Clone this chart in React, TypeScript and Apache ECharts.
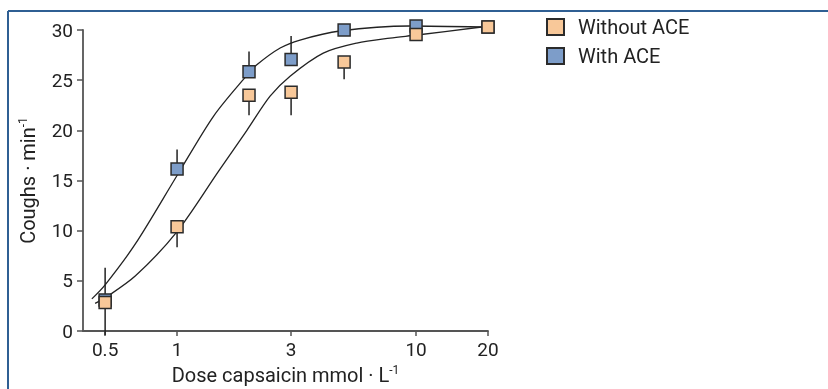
import React, { useEffect, useRef } from "react";
import * as echarts from "echarts";

const doses = [0.5, 1, 2, 3, 5, 10, 20];
const withoutAce = [2.85, 10.4, 23.5, 23.8, 26.8, 29.55, 30.3];
const withAce = [3.1, 16.15, 25.85, 27.05, 30.0, 30.4, 30.3];
const withAceErrHigh = [6.3, 18.1, 27.85, 29.4, null, null, null];
const withoutAceErrLow = [-0.4, 8.35, 21.5, 21.5, 25.1, null, null];

const withAceCurveDose = [0.44, 0.5, 0.67, 1.0, 1.42, 1.93, 2.15, 2.7, 3.27, 4.8, 9.4, 18.8];
const withAceCurve = [3.2, 4.6, 8.7, 15.5, 21.4, 25.3, 26.5, 28.2, 29.0, 29.9, 30.4, 30.3];
const withoutAceCurveDose = [0.454, 0.5, 0.67, 1.0, 1.49, 1.96, 2.45, 2.97, 4.09, 5.65, 7.78, 10.1, 18.8];
const withoutAceCurve = [2.76, 3.3, 5.5, 9.9, 15.9, 20.0, 23.4, 25.4, 27.7, 28.7, 29.2, 29.5, 30.3];

const xTickLabels = [0.5, 1, 3, 10, 20];
const xMinDose = 0.404;
const xMaxDose = 20;

const FONT = "Roboto";
const ORANGE = "#f8c899";
const BLUE = "#7d9dc9";
const INK = "#222222";

const lg = (v: number) => Math.log10(v);

export default function App() {
  const ref = useRef<HTMLDivElement>(null);

  useEffect(() => {
    if (!ref.current) return;
    const chart = echarts.init(ref.current, undefined, { renderer: "svg" });

    const errData = (vals: number[], errs: (number | null)[]) =>
      doses
        .map((d, i) => (errs[i] == null ? null : [lg(d), vals[i], errs[i] as number]))
        .filter((v) => v !== null);

    const errSeries = (name: string, data: any[]) => ({
      type: "custom",
      name,
      clip: false,
      z: 3,
      silent: true,
      data,
      renderItem: (_p: any, api: any) => {
        const x = api.value(0);
        const p1 = api.coord([x, api.value(1)]);
        const p2 = api.coord([x, api.value(2)]);
        return {
          type: "line",
          shape: { x1: p1[0], y1: p1[1], x2: p2[0], y2: p2[1] },
          style: { stroke: INK, lineWidth: 1.5 },
        };
      },
    });

    const curve = (xs: number[], ys: number[]) => ({
      type: "line",
      data: xs.map((d, i) => [lg(d), ys[i]]),
      smooth: 0.3,
      symbol: "none",
      silent: true,
      clip: false,
      z: 2,
      lineStyle: { color: INK, width: 1.3 },
    });

    const richName = {
      t: { fontSize: 20, color: INK, fontFamily: FONT },
      s: { fontSize: 12, color: INK, fontFamily: FONT, padding: [0, 0, 10, 0] },
    };

    const option: any = {
      animation: false,
      textStyle: { fontFamily: FONT },
      grid: { left: 83, right: 340, top: 30, bottom: 58, outerBoundsMode: "none" },
      legend: {
        orient: "vertical",
        left: 546,
        top: 17,
        padding: 0,
        itemWidth: 17,
        itemHeight: 16,
        itemGap: 9,
        icon: "rect",
        data: ["Without ACE", "With ACE"],
        textStyle: { fontSize: 20, color: INK, fontFamily: FONT, padding: [0, 0, 0, 9] },
      },
      xAxis: {
        type: "value",
        min: lg(xMinDose),
        max: lg(xMaxDose),
        name: "{t|Dose capsaicin mmol · L}{s|-1}",
        nameLocation: "middle",
        nameGap: 25,
        nameTextStyle: { rich: richName },
        axisLine: { onZero: false, lineStyle: { color: "#555", width: 1.8 } },
        axisTick: {
          show: true,
          length: 5,
          lineStyle: { color: "#555", width: 1.5 },
          customValues: xTickLabels.map(lg),
        },
        axisLabel: {
          customValues: xTickLabels.map(lg),
          showMinLabel: true,
          showMaxLabel: true,
          fontSize: 19,
          color: INK,
          fontFamily: FONT,
          margin: 9,
          formatter: (v: number) => String(Number(Math.pow(10, v).toPrecision(2))),
        },
        splitLine: { show: false },
      },
      yAxis: {
        type: "value",
        min: 0,
        max: 30,
        interval: 5,
        name: "{t|Coughs · min}{s|-1}",
        nameLocation: "middle",
        nameGap: 44,
        nameTextStyle: { rich: richName },
        axisLine: { show: true, onZero: false, lineStyle: { color: "#555", width: 1.8 } },
        axisTick: { show: true, length: 6, lineStyle: { color: "#555", width: 1.5 } },
        axisLabel: { fontSize: 19, color: INK, fontFamily: FONT, margin: 10 },
        splitLine: { show: false },
      },
      graphic: [
        {
          type: "line",
          shape: { x1: 8, y1: 11, x2: 828, y2: 11 },
          style: { stroke: "#2f5f93", lineWidth: 2 },
          z: 100,
        },
        {
          type: "line",
          shape: { x1: 8, y1: 11, x2: 8, y2: 389 },
          style: { stroke: "#2f5f93", lineWidth: 2 },
          z: 100,
        },
      ],
      series: [
        curve(withAceCurveDose, withAceCurve),
        curve(withoutAceCurveDose, withoutAceCurve),
        errSeries("withErr", errData(withAce, withAceErrHigh)),
        errSeries("withoutErr", errData(withoutAce, withoutAceErrLow)),
        {
          type: "scatter",
          name: "With ACE",
          symbol: "rect",
          symbolSize: 12,
          clip: false,
          z: 4,
          data: doses.map((d, i) => [lg(d), withAce[i]]),
          itemStyle: { color: BLUE, borderColor: "#2b2b2b", borderWidth: 1.5, opacity: 1 },
        },
        {
          type: "scatter",
          name: "Without ACE",
          symbol: "rect",
          symbolSize: 12,
          clip: false,
          z: 5,
          data: doses.map((d, i) => [lg(d), withoutAce[i]]),
          itemStyle: { color: ORANGE, borderColor: "#2b2b2b", borderWidth: 1.5, opacity: 1 },
        },
      ],
    };

    chart.setOption(option);
    return () => chart.dispose();
  }, []);

  return (
    <div
      ref={ref}
      style={{ position: "fixed", left: 0, top: 0, width: 828, height: 389 }}
    />
  );
}
